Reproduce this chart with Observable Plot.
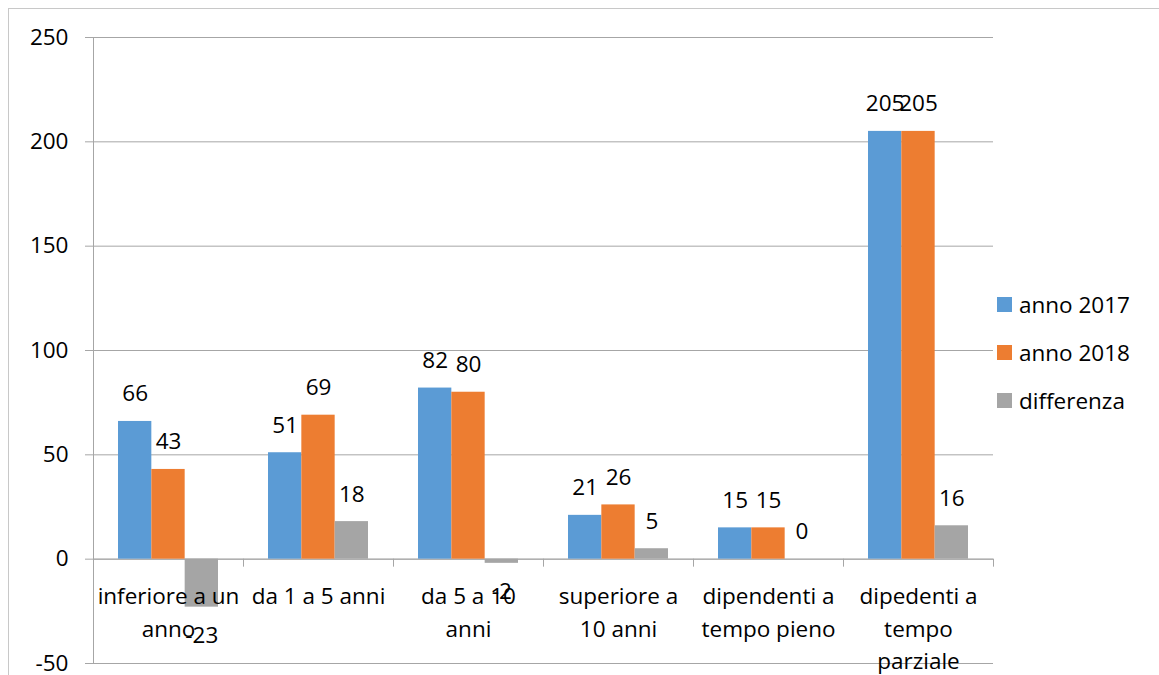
<!DOCTYPE html>
<html>
<head>
<meta charset="utf-8">
<script src="https://cdn.jsdelivr.net/npm/d3@7"></script>
<script src="https://cdn.jsdelivr.net/npm/@observablehq/plot@0.6"></script>
<style>
  html, body { margin: 0; padding: 0; background: #fff; overflow: hidden; }
  body { width: 1159px; height: 675px; position: relative; font-family: "Open Sans", sans-serif; }
  #border { position: absolute; left: 8px; top: 8px; width: 1300px; height: 900px; border: 1px solid #c8c8c8; box-sizing: border-box; }
  #chart { position: absolute; left: 0; top: 0; }
  #legend { position: absolute; left: 997px; top: 280px; font-size: 22.5px; color: #000; }
  .item { display: flex; align-items: center; height: 48px; }
  .sw { width: 15px; height: 15px; margin-right: 7px; }
</style>
</head>
<body>
<div id="border"></div>
<div id="chart"></div>
<div id="legend"></div>
<script>
const categories = ["inferiore a un anno", "da 1 a 5 anni", "da 5 a 10 anni", "superiore a 10 anni", "dipendenti a tempo pieno", "dipedenti a tempo parziale"];
const categoryLabels = ["inferiore a un\nanno", "da 1 a 5 anni", "da 5 a 10\nanni", "superiore a\n10 anni", "dipendenti a\ntempo pieno", "dipedenti a\ntempo\nparziale"];
const seriesNames = ["anno 2017", "anno 2018", "differenza"];
const anno2017 = [66, 51, 82, 21, 15, 205];
const anno2018 = [43, 69, 80, 26, 15, 205];
const differenza = [-23, 18, -2, 5, 0, 16];
const yTicks = [-50, 0, 50, 100, 150, 200, 250];
const colors = ["#5b9bd5", "#ed7d31", "#a5a5a5"];

const GAP = 0.75; // half of Excel's 150% gap width, in bar units
const seriesValues = [anno2017, anno2018, differenza];
const rows = [];
categories.forEach((c, i) => {
  seriesNames.forEach((s, j) => {
    rows.push({category: c, series: s, idx: j, value: seriesValues[j][i]});
  });
});
const labelOf = new Map(categories.map((c, i) => [c, categoryLabels[i]]));
const gridColor = "#a6a6a6";
const font = "Open Sans";
const fs = 22.5;

const chart = Plot.plot({
  width: 1159,
  height: 675,
  marginLeft: 91,
  marginRight: 164,
  marginTop: 37,
  marginBottom: 12,
  style: {fontFamily: font, fontSize: fs + "px", color: "#000", background: "transparent", overflow: "visible"},
  fx: {domain: categories, padding: 0, axis: null},
  x: {domain: [-GAP, seriesNames.length + GAP], axis: null},
  y: {domain: [-50, 250], ticks: yTicks, axis: null},
  color: {domain: seriesNames, range: colors},
  marks: [
    Plot.gridY(yTicks, {stroke: gridColor, strokeOpacity: 1, strokeWidth: 1}),
    Plot.axisY(yTicks, {tickSize: 8, tickPadding: 17, tickFormat: d => String(d), stroke: gridColor, strokeOpacity: 1, fontSize: fs, fill: "#000", facetAnchor: "left", label: null}),
    Plot.ruleX([categories[0]], {fx: d => d, x: -GAP, stroke: gridColor}),
    Plot.ruleY([0], {stroke: gridColor}),
    Plot.ruleX(categories, {fx: d => d, x: -GAP, y1: 0, y2: 0, insetBottom: -8, stroke: gridColor}),
    Plot.ruleX([categories[categories.length - 1]], {fx: d => d, x: seriesNames.length + GAP, y1: 0, y2: 0, insetBottom: -8, stroke: gridColor}),
    Plot.rectY(rows, {fx: "category", x1: d => d.idx, x2: d => d.idx + 1, y1: 0, y2: "value", fill: "series"}),
    Plot.text(rows.filter(d => d.value >= 0), {fx: "category", x: d => d.idx + 0.5, y: "value", text: d => String(d.value), lineAnchor: "bottom", dy: -20, fontSize: fs, fill: "#000"}),
    Plot.text(rows.filter(d => d.value < 0), {fx: "category", x: d => d.idx + 0.5, y: "value", text: d => String(d.value), lineAnchor: "top", dy: 20, fontSize: fs, fill: "#000"}),
    Plot.text(categories, {fx: d => d, y: 0, text: d => labelOf.get(d), lineAnchor: "top", dy: 22, lineHeight: 1.44, fontSize: fs, fill: "#000"})
  ]
});
document.getElementById("chart").appendChild(chart);

const legend = document.getElementById("legend");
seriesNames.forEach((s, i) => {
  const item = document.createElement("div");
  item.className = "item";
  const sw = document.createElement("span");
  sw.className = "sw";
  sw.style.background = colors[i];
  const t = document.createElement("span");
  t.textContent = s;
  item.appendChild(sw);
  item.appendChild(t);
  legend.appendChild(item);
});
</script>
</body>
</html>
